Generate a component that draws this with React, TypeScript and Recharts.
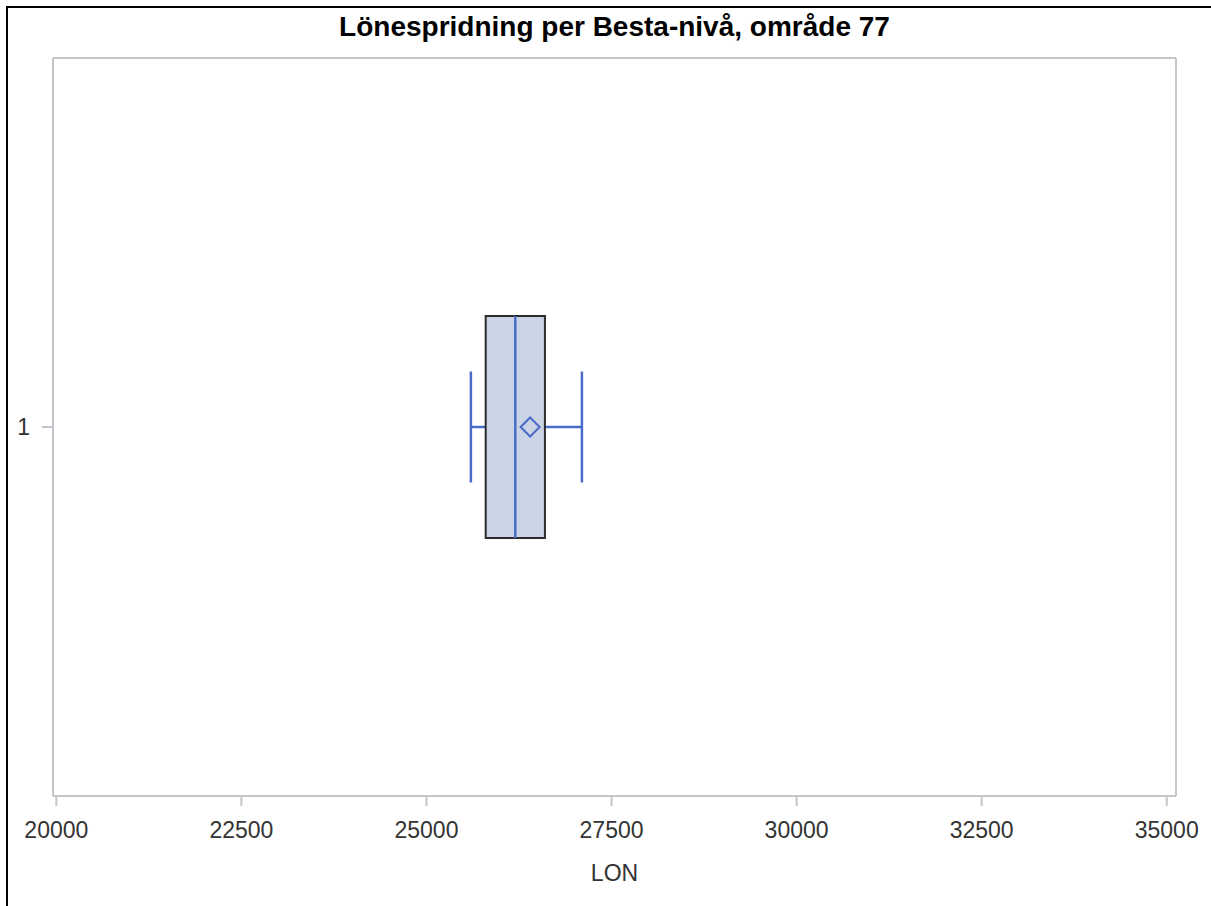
import React from 'react';
import { ComposedChart, Bar, XAxis, YAxis, CartesianGrid } from 'recharts';

const categories = ['1'];
const whiskerLow = [25600];
const q1 = [25800];
const median = [26200];
const q3 = [26600];
const whiskerHigh = [27100];
const mean = [26400];
const xTicks = [20000, 22500, 25000, 27500, 30000, 32500, 35000];
const xDomain = [19955, 35125];

const data = categories.map((c, i) => ({
  cat: c,
  lo: whiskerLow[i],
  q1: q1[i],
  med: median[i],
  q3: q3[i],
  hi: whiskerHigh[i],
  mean: mean[i],
  range: [whiskerLow[i], whiskerHigh[i]],
}));

const FRAME = '#c3c6ca';
const BLUE = '#4a6cc8';
const FONT = '"Liberation Sans", Arial, sans-serif';

const BoxShape = (props: any) => {
  const { x, y, width, height, payload } = props;
  const p = payload;
  const px = (v: number) => x + ((v - p.lo) / (p.hi - p.lo)) * width;
  const cy = y + height / 2;
  const capH = height / 2;
  const xq1 = px(p.q1);
  const xq3 = px(p.q3);
  const xm = px(p.mean);
  const d = 9.5;
  return (
    <g>
      <line x1={px(p.lo)} x2={xq1} y1={cy} y2={cy} stroke={BLUE} strokeWidth={2.5} />
      <line x1={xq3} x2={px(p.hi)} y1={cy} y2={cy} stroke={BLUE} strokeWidth={2.5} />
      <line x1={px(p.lo)} x2={px(p.lo)} y1={cy - capH / 2} y2={cy + capH / 2} stroke={BLUE} strokeWidth={2.5} />
      <line x1={px(p.hi)} x2={px(p.hi)} y1={cy - capH / 2} y2={cy + capH / 2} stroke={BLUE} strokeWidth={2.5} />
      <rect x={xq1} y={y} width={xq3 - xq1} height={height} fill="#cad4e4" stroke="#2b2b2b" strokeWidth={2} />
      <line x1={px(p.med)} x2={px(p.med)} y1={y} y2={y + height} stroke={BLUE} strokeWidth={2.5} />
      <path
        d={`M${xm - d},${cy} L${xm},${cy - d} L${xm + d},${cy} L${xm},${cy + d} Z`}
        fill="none"
        stroke={BLUE}
        strokeWidth={2}
      />
    </g>
  );
};

export default function App() {
  return (
    <div style={{ position: 'absolute', left: 0, top: 0, width: 1211, height: 906, background: '#fff', fontFamily: FONT }}>
      <div
        style={{
          position: 'absolute',
          left: 6,
          top: 6,
          width: 1205,
          height: 900,
          borderLeft: '2px solid #000',
          borderTop: '2px solid #000',
          boxSizing: 'border-box',
        }}
      />
      <div
        style={{
          position: 'absolute',
          left: 53,
          top: 13,
          width: 1123,
          textAlign: 'center',
          fontSize: 28,
          lineHeight: '28px',
          fontWeight: 'bold',
          color: '#000',
          fontFamily: FONT,
        }}
      >
        Lönespridning per Besta-nivå, område 77
      </div>
      <div style={{ position: 'absolute', left: 0, top: 0 }}>
        <ComposedChart
          width={1211}
          height={906}
          data={data}
          layout="vertical"
          margin={{ top: 58, right: 35, left: 8, bottom: 15 }}
        >
          <CartesianGrid
            stroke={FRAME}
            strokeWidth={2}
            fill="none"
            horizontalCoordinatesGenerator={({ offset }: any) => [offset.top, offset.top + offset.height]}
            verticalCoordinatesGenerator={({ offset }: any) => [offset.left, offset.left + offset.width]}
          />
          <XAxis
            type="number"
            domain={xDomain}
            ticks={xTicks}
            allowDataOverflow
            stroke={FRAME}
            tickSize={10}
            tickMargin={16}
            height={95}
            tick={{ fill: '#333', fontSize: 23, fontFamily: FONT }}
            axisLine={{ stroke: FRAME, strokeWidth: 2 }}
            tickLine={{ stroke: FRAME, strokeWidth: 2 }}
            label={{ value: 'LON', position: 'insideBottom', offset: 10, fill: '#333', fontSize: 23, fontFamily: FONT }}
          />
          <YAxis
            type="category"
            dataKey="cat"
            width={45}
            tickSize={11}
            tickMargin={12}
            tick={{ fill: '#333', fontSize: 23, fontFamily: FONT }}
            axisLine={{ stroke: FRAME, strokeWidth: 2 }}
            tickLine={{ stroke: FRAME, strokeWidth: 2 }}
          />
          <Bar dataKey="range" barSize={222} shape={BoxShape} isAnimationActive={false} />
        </ComposedChart>
      </div>
    </div>
  );
}
